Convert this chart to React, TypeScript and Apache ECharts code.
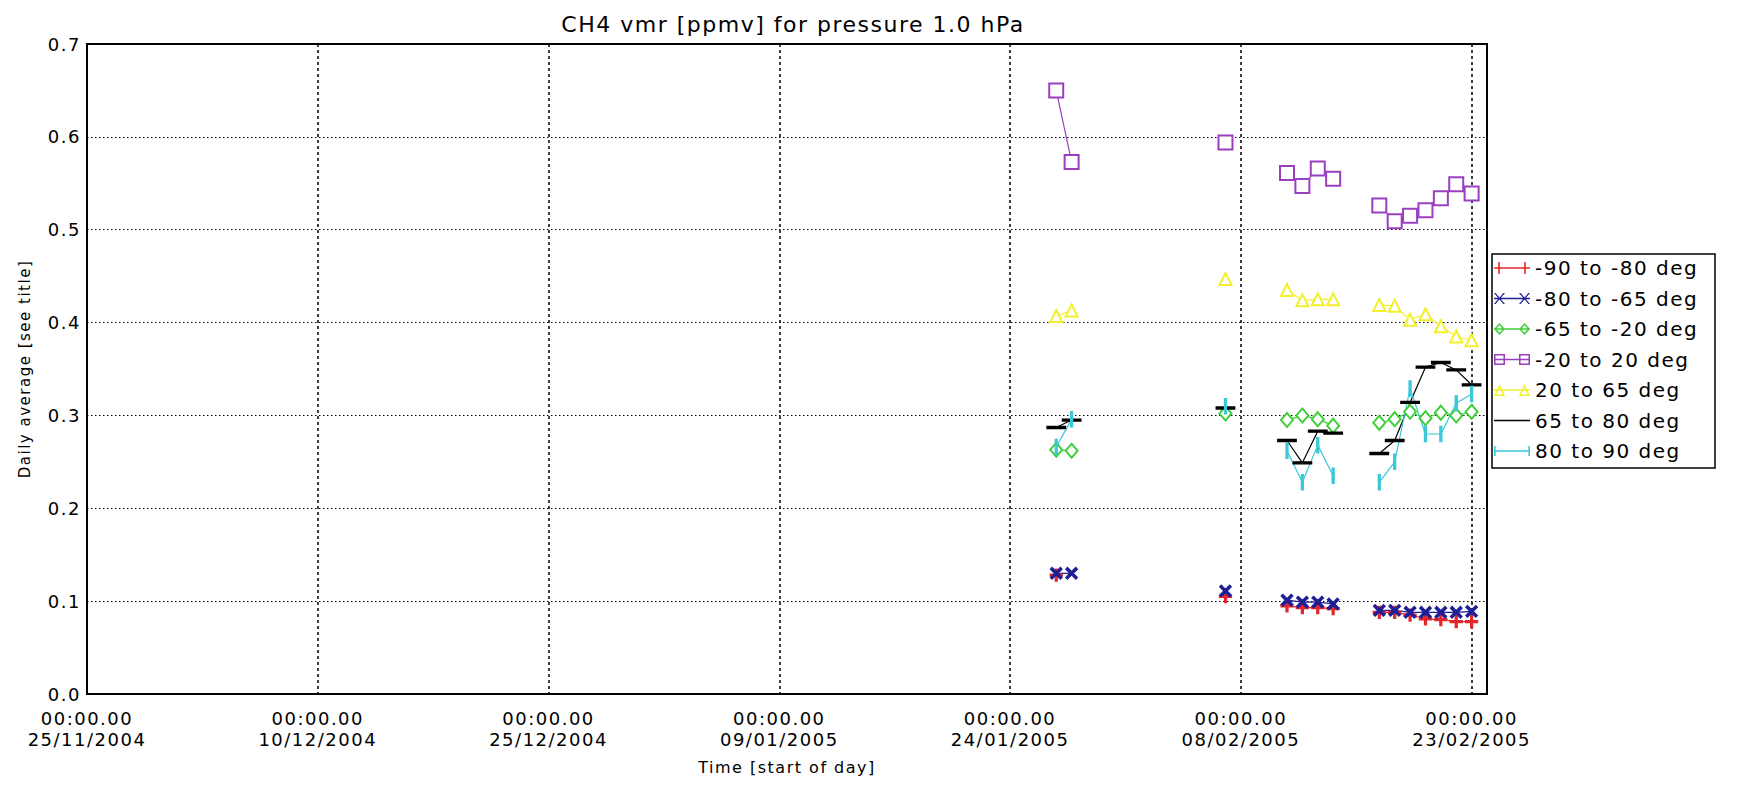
import React, { useEffect, useRef } from "react";
import * as echarts from "echarts";

// Day of each sample (dd/mm/yyyy); empty days mark gaps between clusters
const dates = [
  "27/01/2005", "28/01/2005", "29/01/2005",
  "07/02/2005", "08/02/2005",
  "11/02/2005", "12/02/2005", "13/02/2005", "14/02/2005", "15/02/2005",
  "17/02/2005", "18/02/2005", "19/02/2005", "20/02/2005", "21/02/2005", "22/02/2005", "23/02/2005",
];

const seriesNames = [
  "-90 to -80 deg",
  "-80 to -65 deg",
  "-65 to -20 deg",
  "-20 to 20 deg",
  "20 to 65 deg",
  "65 to 80 deg",
  "80 to 90 deg",
];

const lat90to80 = [0.128, null, null, 0.105, null, 0.095, 0.093, 0.093, 0.092, null, 0.088, 0.088, 0.085, 0.081, 0.080, 0.078, 0.078];
const lat80to65 = [0.130, 0.130, null, 0.111, null, 0.101, 0.099, 0.099, 0.097, null, 0.090, 0.090, 0.088, 0.088, 0.088, 0.088, 0.089];
const lat65to20 = [0.263, 0.262, null, 0.302, null, 0.295, 0.300, 0.296, 0.289, null, 0.292, 0.296, 0.304, 0.297, 0.303, 0.300, 0.304];
const lat20to20 = [0.650, 0.573, null, 0.594, null, 0.561, 0.547, 0.566, 0.555, null, 0.526, 0.509, 0.515, 0.521, 0.534, 0.549, 0.539];
const lat20to65 = [0.407, 0.413, null, 0.447, null, 0.435, 0.424, 0.425, 0.425, null, 0.419, 0.418, 0.403, 0.409, 0.396, 0.385, 0.381];
const lat65to80 = [0.287, 0.295, null, 0.308, null, 0.273, 0.249, 0.283, 0.281, null, 0.259, 0.273, 0.314, 0.352, 0.357, 0.349, 0.333];
const lat80to90 = [0.266, 0.296, null, 0.310, null, 0.262, 0.228, 0.268, 0.235, null, 0.228, 0.250, 0.329, 0.280, 0.280, 0.313, 0.323];

// x axis: days since the first tick date
const axisStart = "25/11/2004";
const axisDays = 91;
const tickStepDays = 15;
const yTicks = ["0.0", "0.1", "0.2", "0.3", "0.4", "0.5", "0.6", "0.7"];

const DAY = 86400000;
function parseDate(s: string): number {
  const [d, m, y] = s.split("/").map(Number);
  return Date.UTC(y, m - 1, d);
}
const T0 = parseDate(axisStart);
const toDay = (s: string) => Math.round((parseDate(s) - T0) / DAY);
const pad = (n: number) => (n < 10 ? "0" + n : "" + n);
function dayLabel(v: number): string {
  if (Math.abs(v % tickStepDays) > 1e-6) return "";
  const dt = new Date(T0 + v * DAY);
  return "00:00.00\n" + pad(dt.getUTCDate()) + "/" + pad(dt.getUTCMonth() + 1) + "/" + dt.getUTCFullYear();
}

const PLUS = "path://M4.2,0H5.8V4.2H10V5.8H5.8V10H4.2V5.8H0V4.2H4.2Z";
const FONT = "DejaVu Sans";

// legend icons: marker - line - marker, 36 x 12
const LINE = "M0,5.3H36V6.7H0Z ";
const legendIcons = [
  "path://" + LINE + "M4.2,0H5.8V12H4.2Z M30.2,0H31.8V12H30.2Z",
  "path://" + LINE +
    "M0,0.5L1.6,0.5L11,11.5L9.4,11.5Z M9.4,0.5L11,0.5L1.6,11.5L0,11.5Z " +
    "M25,0.5L26.6,0.5L36,11.5L34.4,11.5Z M34.4,0.5L36,0.5L26.6,11.5L25,11.5Z",
  "path://" + LINE +
    "M5.5,0L11,6L5.5,12L0,6Z M5.5,2.2L2,6L5.5,9.8L9,6Z " +
    "M30.5,0L36,6L30.5,12L25,6Z M30.5,2.2L27,6L30.5,9.8L34,6Z",
  "path://" + LINE +
    "M0,0.5H11V11.5H0Z M1.5,2V10H9.5V2Z M25,0.5H36V11.5H25Z M26.5,2V10H34.5V2Z",
  "path://" + LINE +
    "M5.5,0L11,12L0,12Z M5.5,3.4L2.3,10.6L8.7,10.6Z M30.5,0L36,12L25,12Z M30.5,3.4L27.3,10.6L33.7,10.6Z",
  "path://M0,0H36V1.6H0Z",
  "path://" + LINE + "M0,1H1.6V11H0Z M34.4,1H36V11H34.4Z",
];

export default function App() {
  const ref = useRef<HTMLDivElement>(null);
  useEffect(() => {
    const chart = echarts.init(ref.current!, undefined, { renderer: "svg" });
    const xs = dates.map(toDay);
    const mk = (
      name: string,
      values: (number | null)[],
      color: string,
      symbol: string,
      symbolSize: number | number[],
      extra: any = {}
    ) => ({
      name,
      type: "line",
      data: xs.map((x, i) => [x, values[i] == null ? "-" : values[i]]),
      symbol,
      symbolSize,
      showSymbol: true,
      showAllSymbol: true,
      connectNulls: false,
      lineStyle: { color, width: 1.2 },
      itemStyle: { color, borderColor: color, borderWidth: 1.3 },
      emphasis: { disabled: true },
      ...extra,
    });

    chart.setOption({
      animation: false,
      backgroundColor: "#fff",
      textStyle: { fontFamily: FONT },
      title: {
        text: "CH4 vmr [ppmv] for pressure 1.0 hPa",
        left: 788,
        top: 8,
        textAlign: "center",
        textStyle: { fontFamily: FONT, fontSize: 22, fontWeight: "normal", color: "#000" },
      },
      graphic: [
        {
          type: "rect",
          shape: { x: 1492, y: 254, width: 223, height: 214 },
          style: { fill: "#fff", stroke: "#000", lineWidth: 1.5 },
          z: 0,
        },
      ],
      legend: {
        orient: "vertical",
        left: 1494,
        top: 258,
        itemWidth: 36,
        itemHeight: 12,
        itemGap: 10.5,
        padding: 0,
        itemStyle: { borderWidth: 0 },
        textStyle: { fontFamily: FONT, fontSize: 20, lineHeight: 20, color: "#000" },
        data: seriesNames.map((n, i) => ({ name: n, icon: legendIcons[i] })),
      },
      grid: {
        left: 87,
        top: 44,
        width: 1400,
        height: 650,
        show: true,
        borderColor: "#000",
        borderWidth: 2,
        backgroundColor: "#fff",
      },
      xAxis: {
        type: "value",
        min: 0,
        max: axisDays,
        interval: tickStepDays,
        name: "Time [start of day]",
        nameLocation: "middle",
        nameGap: 65,
        nameTextStyle: { fontFamily: FONT, fontSize: 16, color: "#000" },
        axisLine: { show: true, lineStyle: { color: "#000", width: 2 } },
        axisTick: { show: false },
        axisLabel: {
          formatter: dayLabel,
          fontFamily: FONT,
          fontSize: 18,
          lineHeight: 21,
          color: "#000",
          margin: 14,
          showMaxLabel: false,
        },
        splitLine: { show: true, lineStyle: { color: "#000", width: 1.5, type: [3, 3] } },
      },
      yAxis: {
        type: "value",
        min: 0,
        max: 0.7,
        interval: 0.1,
        name: "Daily average [see title]",
        nameLocation: "middle",
        nameGap: 55,
        nameTextStyle: { fontFamily: FONT, fontSize: 15, color: "#000" },
        axisLine: { show: true, lineStyle: { color: "#000", width: 2 } },
        axisTick: { show: false },
        axisLabel: {
          formatter: (v: number) => yTicks[Math.round(v * 10)] ?? "",
          fontFamily: FONT,
          fontSize: 18,
          color: "#000",
          margin: 6,
        },
        splitLine: { show: true, lineStyle: { color: "#000", width: 1, type: [1.5, 2.5] } },
      },
      series: [
        mk(seriesNames[0], lat90to80, "#e3262c", PLUS, 12),
        mk(seriesNames[1], lat80to65, "#1f1f96", PLUS, 14, { symbolRotate: 45 }),
        mk(seriesNames[2], lat65to20, "#3fcf3a", "emptyDiamond", [12, 14]),
        mk(seriesNames[3], lat20to20, "#9a3fc0", "emptyRect", 14),
        mk(seriesNames[4], lat20to65, "#f2f02a", "emptyTriangle", 12),
        mk(seriesNames[5], lat65to80, "#000000", "rect", [12, 2]),
        mk(seriesNames[6], lat80to90, "#3cc8d8", "rect", [2, 10]),
      ],
    });
    return () => chart.dispose();
  }, []);
  return (
    <div
      ref={ref}
      style={{
        position: "fixed",
        left: 0,
        top: 0,
        width: 1746,
        height: 787,
        letterSpacing: "1.5px",
        background: "#fff",
      }}
    />
  );
}
